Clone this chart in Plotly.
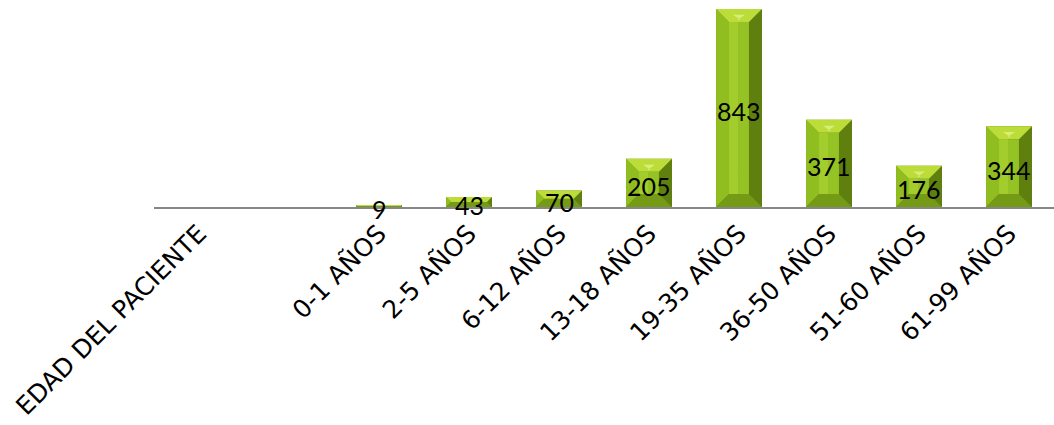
import plotly.graph_objects as go

# Patient age groups and counts
categories = ["EDAD DEL PACIENTE", "", "0-1 AÑOS", "2-5 AÑOS", "6-12 AÑOS", "13-18 AÑOS",
              "19-35 AÑOS", "36-50 AÑOS", "51-60 AÑOS", "61-99 AÑOS"]
values = [None, None, 9, 43, 70, 205, 843, 371, 176, 344]

TICK_FONT = "DejaVu Sans"
LABEL_FONT = "Lato"
W_PX, PLOT_TOP, PLOT_BOTTOM, LEFT = 1054, 0, 207, 154
Y_MAX = 881.3
BAR_W = 0.51
BEVEL_PX = 13

x_idx = list(range(len(categories)))
px_per_x = (W_PX - LEFT) / len(categories)
px_per_y = (PLOT_BOTTOM - PLOT_TOP) / Y_MAX

faces = {k: ([], []) for k in ["top", "left", "right", "bottom", "face", "shine", "facelight"]}


def add_poly(key, pts):
    xs, ys = faces[key]
    for px, py in pts:
        xs.append(px)
        ys.append(py)
    xs.append(None)
    ys.append(None)


for i, v in zip(x_idx, values):
    if not v:
        continue
    h_px = v * px_per_y
    b_px = min(BEVEL_PX, h_px / 2)
    bx = b_px / px_per_x
    by = b_px / px_per_y
    x0, x1 = i - BAR_W / 2, i + BAR_W / 2
    add_poly("top", [(x0, v), (x1, v), (x1 - bx, v - by), (x0 + bx, v - by)])
    add_poly("left", [(x0, 0), (x0, v), (x0 + bx, v - by), (x0 + bx, by)])
    add_poly("right", [(x1, 0), (x1, v), (x1 - bx, v - by), (x1 - bx, by)])
    add_poly("bottom", [(x0, 0), (x1, 0), (x1 - bx, by), (x0 + bx, by)])
    add_poly("face", [(x0 + bx, by), (x1 - bx, by), (x1 - bx, v - by), (x0 + bx, v - by)])
    # lighter band on the left half of the front face
    fx0, fx1 = x0 + bx, x1 - bx
    add_poly("facelight", [(fx0, by), (fx0 + (fx1 - fx0) * 0.45, by),
                           (fx0 + (fx1 - fx0) * 0.45, v - by), (fx0, v - by)])
    if h_px > 30:
        sy = by * 0.4
        add_poly("shine", [(x0 + bx * 1.3, v - by * 0.45), (x1 - bx * 1.3, v - by * 0.45),
                           (x1 - bx * 1.9, v - by * 0.45 - sy), (x0 + bx * 1.9, v - by * 0.45 - sy)])

colors = {"left": "#90bd20", "right": "#5f800f", "bottom": "#759a16",
          "top": "#bcdc3a", "face": "#95c224", "facelight": "#a2cd2c",
          "shine": "#d8ee78"}

fig = go.Figure()
fig.add_trace(go.Bar(x=x_idx, y=[v if v else 0 for v in values], width=BAR_W,
                     marker=dict(color="#5f800f", line=dict(width=0)), hoverinfo="skip"))
for key in ["left", "right", "bottom", "top", "face", "facelight", "shine"]:
    xs, ys = faces[key]
    fig.add_trace(go.Scatter(x=xs, y=ys, mode="lines", fill="toself",
                             fillcolor=colors[key], line=dict(width=0),
                             hoverinfo="skip"))

# Value labels centred on each bar
for i, v in zip(x_idx, values):
    if not v:
        continue
    fig.add_annotation(x=i, y=v / 2, text=str(v), showarrow=False,
                       xanchor="center", yanchor="middle", yshift=-3,
                       font=dict(family=LABEL_FONT, size=25, color="#000000"))

fig.update_layout(
    width=W_PX, height=425,
    margin=dict(l=LEFT, r=0, t=PLOT_TOP, b=425 - PLOT_BOTTOM),
    paper_bgcolor="white", plot_bgcolor="white",
    showlegend=False,
    xaxis=dict(range=[-0.5, len(categories) - 0.5], tickmode="array",
               tickvals=x_idx, ticktext=categories, tickangle=-45,
               showline=True, linecolor="#878787", linewidth=2,
               showgrid=False, zeroline=False, ticks="", layer="above traces",
               tickfont=dict(family=TICK_FONT, size=25, color="#000000")),
    yaxis=dict(range=[0, Y_MAX], visible=False, showgrid=False, zeroline=False),
)

fig.write_html("out.html")
